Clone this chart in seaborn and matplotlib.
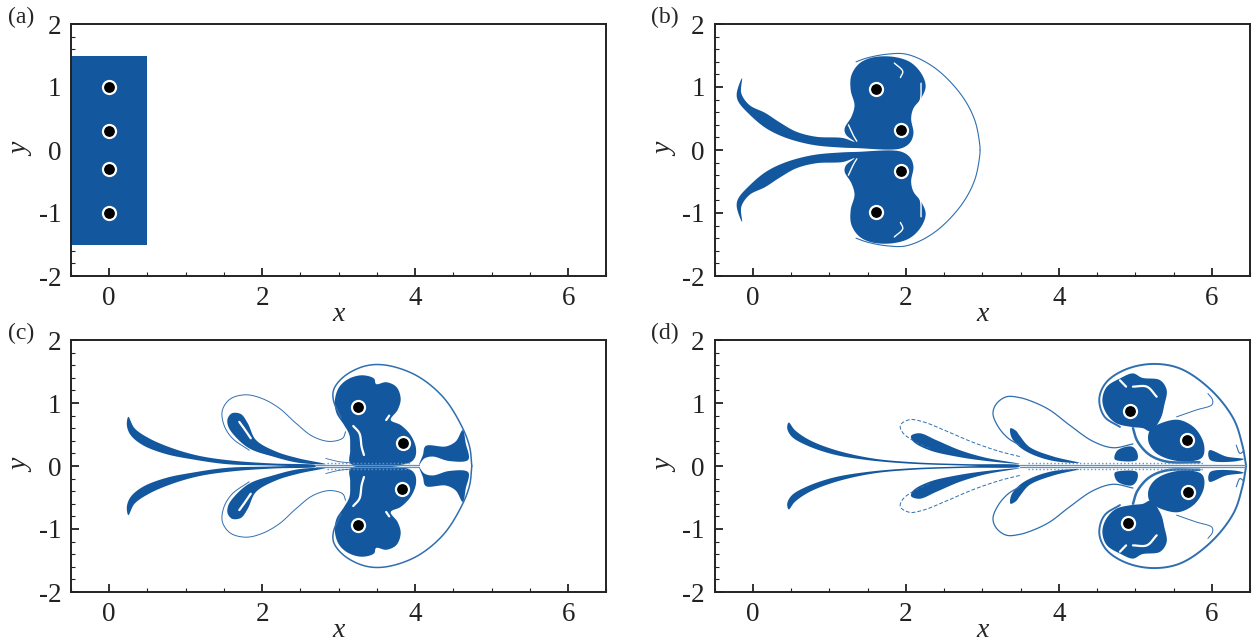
import numpy as np
import matplotlib
matplotlib.use('Agg')
import matplotlib.pyplot as plt
import seaborn as sns

BLUE = '#13589f'
THIN = '#2f6fb0'
HAZE = '#5f93c6'

# vortex centres
vort_a_x = [0, 0, 0, 0]
vort_a_y = [1.0, 0.3, -0.3, -1.0]
vort_b_x = [1.61, 1.94, 1.94, 1.61]
vort_b_y = [0.97, 0.32, -0.33, -0.99]
vort_c_x = [3.25, 3.84, 3.83, 3.25]
vort_c_y = [0.94, 0.36, -0.365, -0.93]
vort_d_x = [4.93, 5.68, 5.69, 4.91]
vort_d_y = [0.88, 0.42, -0.41, -0.90]

# panel a: seeded block
block_x = [-0.5, 0.5, 0.5, -0.5]
block_y = [-1.5, -1.5, 1.5, 1.5]

# panel b: upper half outlines, the lower half is the mirror image
b_body = [(-0.14, 1.14), (-0.21, 0.90), (-0.19, 0.77), (-0.04, 0.56), (0.18, 0.34), (0.44, 0.19),
          (0.79, 0.08), (1.14, 0.04), (1.36, 0.03), (1.92, 0.02), (2.05, 0.11), (2.10, 0.26),
          (2.07, 0.50), (2.10, 0.66), (2.20, 0.82), (2.26, 1.01), (2.20, 1.22), (2.05, 1.40),
          (1.83, 1.48), (1.57, 1.47), (1.40, 1.38), (1.29, 1.19), (1.28, 0.95), (1.33, 0.71),
          (1.29, 0.53), (1.20, 0.34), (1.22, 0.24), (1.33, 0.13), (1.18, 0.19), (0.83, 0.21),
          (0.57, 0.29), (0.35, 0.44), (0.16, 0.59), (-0.04, 0.71), (-0.15, 0.90)]
b_arc = [(1.35, 1.40), (1.49, 1.46), (1.75, 1.52), (2.01, 1.52), (2.36, 1.32), (2.71, 0.90),
         (2.90, 0.48), (2.97, 0.05), (2.97, 0.0)]
b_slits = [[(2.20, 1.06), (2.19, 0.79), (2.12, 0.61)],
           [(1.25, 0.40), (1.32, 0.22), (1.36, 0.14)],
           [(1.85, 1.38), (1.96, 1.25), (1.93, 1.15)]]

# panel c
c_tail = [(0.25, 0.78), (0.33, 0.60), (0.52, 0.44), (0.83, 0.28), (1.18, 0.16), (1.61, 0.085),
          (2.14, 0.04), (2.70, 0.015), (2.70, 0.005), (2.05, 0.01), (1.53, 0.03), (1.09, 0.105),
          (0.74, 0.19), (0.44, 0.33), (0.28, 0.49), (0.23, 0.65)]
c_drop = [(1.55, 0.76), (1.61, 0.84), (1.72, 0.825), (1.81, 0.68), (1.92, 0.41), (2.18, 0.23),
          (2.48, 0.12), (2.83, 0.03), (2.48, 0.05), (2.14, 0.15), (1.83, 0.28), (1.61, 0.52),
          (1.55, 0.65)]
c_body = [(3.16, 0.03), (3.15, 0.25), (3.14, 0.49), (3.07, 0.65), (2.97, 0.84), (2.95, 1.05),
          (3.01, 1.26), (3.14, 1.39), (3.31, 1.44), (3.46, 1.39), (3.49, 1.30), (3.62, 1.33),
          (3.75, 1.26), (3.81, 1.07), (3.77, 0.89), (3.68, 0.73), (3.81, 0.65), (3.94, 0.49),
          (4.01, 0.28), (3.99, 0.12), (3.90, 0.04)]
c_wing = [(4.05, 0.015), (4.10, 0.175), (4.14, 0.32), (4.40, 0.31), (4.53, 0.39), (4.62, 0.57),
          (4.66, 0.36), (4.69, 0.095), (4.44, 0.08), (4.23, 0.15), (4.12, 0.12)]
c_loop = [(3.09, 0.545), (3.05, 0.44), (2.88, 0.39), (2.66, 0.47), (2.44, 0.68), (2.22, 0.92),
          (2.00, 1.07), (1.79, 1.13), (1.59, 1.07), (1.48, 0.89), (1.50, 0.65), (1.61, 0.44),
          (1.83, 0.25)]
c_arc = [(3.03, 0.76), (2.93, 1.05), (2.94, 1.23), (3.09, 1.44), (3.355, 1.59), (3.62, 1.60),
         (4.01, 1.44), (4.36, 1.10), (4.60, 0.65), (4.71, 0.31), (4.74, 0.0)]
c_core = [(2.70, 0.02), (4.05, 0.02)]
c_haze = [(2.85, 0.05), (3.95, 0.05)]
c_fin = [(2.83, 0.12), (3.00, 0.07), (3.15, 0.05)]
c_slits = [[(1.70, 0.70), (1.76, 0.60), (1.85, 0.44)],
           [(3.19, 0.635), (3.27, 0.52), (3.30, 0.30), (3.33, 0.175)],
           [(3.62, 0.73), (3.66, 0.80)]]

# panel d
d_tail = [(0.47, 0.69), (0.55, 0.57), (0.745, 0.41), (1.09, 0.25), (1.57, 0.12), (2.10, 0.06),
          (2.79, 0.03), (3.49, 0.015), (3.49, 0.005), (2.53, 0.015), (2.01, 0.04), (1.49, 0.095),
          (1.05, 0.185), (0.70, 0.33), (0.51, 0.465), (0.45, 0.60)]
d_drop1 = [(2.07, 0.48), (2.18, 0.52), (2.40, 0.41), (2.71, 0.25), (3.05, 0.13), (3.49, 0.035),
           (3.05, 0.08), (2.66, 0.15), (2.31, 0.25), (2.10, 0.385)]
d_drop2 = [(3.37, 0.60), (3.44, 0.56), (3.49, 0.48), (3.62, 0.30), (3.93, 0.15), (4.27, 0.05),
           (3.93, 0.08), (3.66, 0.18), (3.49, 0.30), (3.38, 0.46)]
d_lobe1 = [(4.57, 1.05), (4.63, 1.26), (4.80, 1.39), (4.97, 1.47), (5.09, 1.40), (5.32, 1.365),
           (5.41, 1.21), (5.38, 0.97), (5.33, 0.75), (5.20, 0.55), (5.10, 0.60), (4.95, 0.62),
           (4.75, 0.68), (4.62, 0.84)]
d_lobe2 = [(5.17, 0.40), (5.20, 0.58), (5.41, 0.71), (5.58, 0.73), (5.78, 0.60), (5.90, 0.33),
           (5.87, 0.13), (5.67, 0.07), (5.41, 0.12), (5.25, 0.23)]
d_frag = [(4.73, 0.11), (4.77, 0.25), (4.95, 0.31), (5.02, 0.23), (5.02, 0.095), (4.80, 0.08)]
d_wing = [(5.97, 0.25), (5.98, 0.095), (6.28, 0.07), (6.42, 0.11), (6.19, 0.15)]
d_loop1 = [(3.49, 0.15), (3.23, 0.23), (2.88, 0.375), (2.53, 0.555), (2.23, 0.70), (2.05, 0.735),
           (1.93, 0.65), (1.96, 0.53), (2.10, 0.40), (2.31, 0.28)]
d_loop2 = [(4.97, 0.35), (4.71, 0.29), (4.45, 0.39), (4.14, 0.65), (3.88, 0.89), (3.66, 1.02),
           (3.49, 1.085), (3.32, 1.10), (3.19, 0.995), (3.14, 0.835), (3.21, 0.62), (3.34, 0.44),
           (3.49, 0.33)]
d_arc = [(4.80, 0.62), (4.60, 0.78), (4.53, 1.07), (4.63, 1.34), (4.89, 1.54), (5.23, 1.62),
         (5.58, 1.55), (5.97, 1.23), (6.28, 0.76), (6.40, 0.33), (6.45, 0.0)]
d_inner = [(5.54, 0.78), (5.80, 0.89), (6.00, 0.97), (6.01, 1.05), (5.95, 1.15)]
d_curl = [(6.32, 0.33), (6.37, 0.20), (6.42, 0.24)]
d_strip = [(4.97, 0.60), (5.03, 0.39), (5.19, 0.175), (5.41, 0.07), (5.84, 0.06)]
d_core = [(3.49, 0.02), (6.45, 0.02)]
d_haze = [(3.60, 0.055), (5.90, 0.055)]
d_slits = [[(4.80, 1.36), (4.88, 1.26)],
           [(4.97, 1.26), (5.15, 1.26), (5.28, 1.10)]]

sns.set_theme(style='ticks', rc={'axes.linewidth': 1.4, 'axes.edgecolor': '#222222',
                                 'xtick.color': '#222222', 'ytick.color': '#222222'})
plt.rcParams['font.family'] = ['Liberation Serif', 'DejaVu Serif']

fig, axes = plt.subplots(2, 2, figsize=(12.58, 6.43), dpi=100)
fig.subplots_adjust(left=71 / 1258, right=1250 / 1258, top=1 - 24 / 643, bottom=1 - 592 / 643,
                    wspace=108 / 535, hspace=64 / 252)


def rounded(pts, closed=False, n=10):
    # centripetal spline through the outline points, only to draw them as curves
    p = np.array(pts, dtype=float)
    if closed:
        p = np.vstack([p[-1], p, p[0], p[1]])
    else:
        p = np.vstack([2 * p[0] - p[1], p, 2 * p[-1] - p[-2]])
    out = []
    for i in range(1, len(p) - 2):
        a, b, c, d = p[i - 1], p[i], p[i + 1], p[i + 2]
        t1 = np.linalg.norm(b - a) ** 0.5
        t2 = t1 + np.linalg.norm(c - b) ** 0.5
        t3 = t2 + np.linalg.norm(d - c) ** 0.5
        for t in np.linspace(t1, t2, n, endpoint=False):
            a1 = ((t1 - t) * a + t * b) / t1
            a2 = ((t2 - t) * b + (t - t1) * c) / (t2 - t1)
            a3 = ((t3 - t) * c + (t - t2) * d) / (t3 - t2)
            b1 = ((t2 - t) * a1 + t * a2) / t2
            b2 = ((t3 - t) * a2 + (t - t1) * a3) / (t3 - t1)
            out.append(((t2 - t) * b1 + (t - t1) * b2) / (t2 - t1))
    out.append(p[-2])
    return np.array(out).T


def blob(ax, pts):
    x, y = rounded(pts, closed=True)
    ax.fill(x, y, color=BLUE, lw=0)
    ax.fill(x, -y, color=BLUE, lw=0)


def curve(ax, pts, color=THIN, lw=0.9, ls='-'):
    x, y = rounded(pts)
    for sign in (1, -1):
        sns.lineplot(x=x, y=sign * y, sort=False, estimator=None, color=color, lw=lw,
                     linestyle=ls, legend=False, ax=ax)


def vortices(ax, x, y):
    sns.scatterplot(x=x, y=y, s=88, color='black', edgecolor='white', linewidth=1.6,
                    legend=False, zorder=5, ax=ax)


panels = [('(a)', axes[0, 0], vort_a_x, vort_a_y),
          ('(b)', axes[0, 1], vort_b_x, vort_b_y),
          ('(c)', axes[1, 0], vort_c_x, vort_c_y),
          ('(d)', axes[1, 1], vort_d_x, vort_d_y)]

axes[0, 0].fill(block_x, block_y, color=BLUE, lw=0)

blob(axes[0, 1], b_body)
curve(axes[0, 1], b_arc, lw=0.8)
for s in b_slits:
    curve(axes[0, 1], s, color='white', lw=1.0)

ax = axes[1, 0]
for p in (c_tail, c_drop, c_body, c_wing):
    blob(ax, p)
curve(ax, c_loop, lw=0.7)
curve(ax, c_arc, lw=1.1)
curve(ax, c_core, color=HAZE, lw=0.9)
curve(ax, c_haze, color=HAZE, lw=1.0, ls=':')
curve(ax, c_fin, lw=0.6)
for s in c_slits:
    curve(ax, s, color='white', lw=1.6)

ax = axes[1, 1]
for p in (d_tail, d_drop1, d_drop2, d_lobe1, d_lobe2, d_frag, d_wing):
    blob(ax, p)
curve(ax, d_loop1, lw=0.7, ls=(0, (4, 2)))
curve(ax, d_loop2, lw=0.9)
curve(ax, d_arc, lw=1.4)
curve(ax, d_inner, lw=0.7)
curve(ax, d_curl, lw=0.8)
curve(ax, d_strip, lw=1.8)
curve(ax, d_core, color=HAZE, lw=0.9)
curve(ax, d_haze, color=HAZE, lw=1.0, ls=':')
for s in d_slits:
    curve(ax, s, color='white', lw=1.6)

for label, ax, vx, vy in panels:
    vortices(ax, vx, vy)
    ax.set_xlim(-0.5, 6.5)
    ax.set_ylim(-2, 2)
    ax.set_xticks([0, 2, 4, 6])
    ax.set_yticks([-2, -1, 0, 1, 2])
    ax.set_xticks(np.arange(-0.5, 6.6, 0.5), minor=True)
    ax.set_yticks(np.arange(-2, 2.1, 0.2), minor=True)
    ax.tick_params(which='major', direction='in', length=6, width=1.3, labelsize=19.5, pad=7)
    ax.tick_params(which='minor', direction='in', length=3, width=0.8)
    ax.set_yticklabels(['-2', '-1', '0', '1', '2'])
    ax.set_xlabel('x', style='italic', fontsize=20, labelpad=-6)
    ax.set_ylabel('y', style='italic', fontsize=20, labelpad=3)
    ax.text(-0.118, 1.024, label, transform=ax.transAxes, fontsize=17, va='center', ha='left')

fig.savefig('out.png', dpi=100)
